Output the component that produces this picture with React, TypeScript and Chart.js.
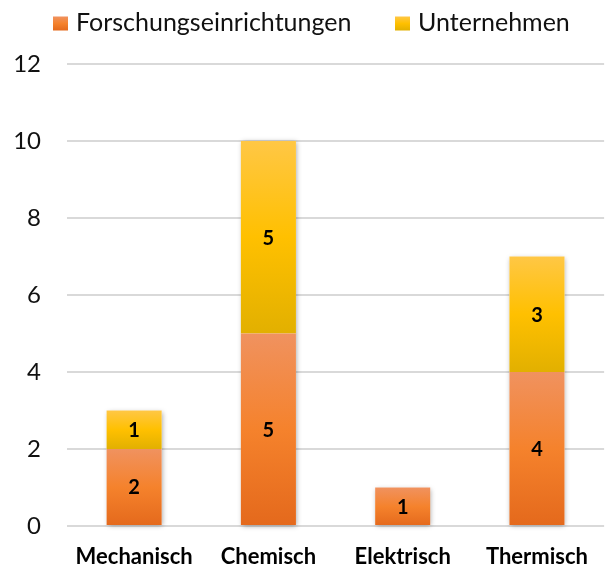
import React, { useEffect, useRef } from "react";
import { Chart, registerables } from "chart.js";

Chart.register(...registerables);

const categories = ["Mechanisch", "Chemisch", "Elektrisch", "Thermisch"];
const forschung = [2, 5, 1, 4];
const unternehmen = [1, 5, 0, 3];
const seriesNames = ["Forschungseinrichtungen", "Unternehmen"];
const yMin = 0;
const yMax = 12;
const yStep = 2;

const FONT = "Lato, 'DejaVu Sans', sans-serif";
const ORANGE = ["#F0925F", "#F5822C", "#E4691C"];
const YELLOW = ["#FFC745", "#FFC000", "#E2B000"];
const palettes = [ORANGE, YELLOW];
const series = [forschung, unternehmen];

function grad(ctx: CanvasRenderingContext2D, top: number, bottom: number, p: string[]) {
  const g = ctx.createLinearGradient(0, top, 0, bottom);
  g.addColorStop(0, p[0]);
  g.addColorStop(0.5, p[1]);
  g.addColorStop(1, p[2]);
  return g;
}

export default function App() {
  const ref = useRef<HTMLCanvasElement>(null);

  useEffect(() => {
    const canvas = ref.current!;

    const bg = (di: number) => (c: any) => {
      const chart = c.chart;
      const y = chart.scales && chart.scales.y;
      if (!chart.chartArea || !y || c.dataIndex === undefined) return palettes[di][1];
      const i = c.dataIndex;
      let start = 0;
      for (let k = 0; k < di; k++) start += series[k][i];
      const end = start + series[di][i];
      const top = y.getPixelForValue(end);
      const bottom = y.getPixelForValue(start);
      if (!(bottom > top)) return palettes[di][1];
      return grad(chart.ctx, top, bottom, palettes[di]);
    };

    const shadowPlugin = {
      id: "barShadow",
      beforeDatasetsDraw(chart: any) {
        const ctx = chart.ctx;
        const m0 = chart.getDatasetMeta(0);
        const m1 = chart.getDatasetMeta(1);
        ctx.save();
        ctx.shadowColor = "rgba(0,0,0,0.35)";
        ctx.shadowBlur = 5;
        ctx.shadowOffsetX = 1;
        ctx.shadowOffsetY = 1;
        ctx.fillStyle = "#ffffff";
        m0.data.forEach((el: any, i: number) => {
          const e1 = m1.data[i];
          const top = unternehmen[i] > 0 ? Math.min(el.y, e1.y) : el.y;
          const bottom = el.base;
          const w = el.width;
          ctx.fillRect(el.x - w / 2, top, w, bottom - top);
        });
        ctx.restore();
      },
    };

    const labelPlugin = {
      id: "segLabels",
      afterDatasetsDraw(chart: any) {
        const ctx = chart.ctx;
        ctx.save();
        ctx.font = `bold 20px ${FONT}`;
        ctx.fillStyle = "#000";
        ctx.textAlign = "center";
        ctx.textBaseline = "middle";
        series.forEach((vals, di) => {
          const meta = chart.getDatasetMeta(di);
          meta.data.forEach((el: any, i: number) => {
            if (!vals[i]) return;
            ctx.fillText(String(vals[i]), el.x, (el.y + el.base) / 2 + 1);
          });
        });
        ctx.restore();
      },
    };

    const legendX = [53, 395];
    const legendPlugin = {
      id: "topLegend",
      afterDraw(chart: any) {
        const ctx = chart.ctx;
        ctx.save();
        ctx.font = `25px ${FONT}`;
        const box = 15;
        const gap = 8;
        const boxTop = 16.5;
        const boxH = 14;
        seriesNames.forEach((name, i) => {
          const x = legendX[i];
          ctx.fillStyle = grad(ctx, boxTop, boxTop + boxH, palettes[i]);
          ctx.fillRect(x, boxTop, box, boxH);
          ctx.fillStyle = "#111";
          ctx.textBaseline = "alphabetic";
          ctx.textAlign = "left";
          ctx.fillText(name, x + box + gap, 30.5);
        });
        ctx.restore();
      },
    };

    const chart = new Chart(canvas, {
      type: "bar",
      data: {
        labels: categories,
        datasets: series.map((vals, di) => ({
          label: seriesNames[di],
          data: vals,
          backgroundColor: bg(di),
          borderWidth: 0,
          barPercentage: 1,
          categoryPercentage: 0.41,
          clip: false as any,
        })),
      },
      options: {
        responsive: false,
        animation: false,
        layout: { padding: { top: 64, left: 0, right: 0, bottom: 0 } },
        plugins: {
          legend: { display: false },
          tooltip: { enabled: false },
        },
        scales: {
          x: {
            stacked: true,
            grid: { display: false, drawTicks: false },
            border: { display: false },
            ticks: {
              color: "#000",
              font: { family: FONT, size: 22, weight: "bold" },
              padding: 18,
              maxRotation: 0,
              autoSkip: false,
            },
            afterFit: (s: any) => {
              s.height = 44;
            },
          },
          y: {
            stacked: true,
            min: yMin,
            max: yMax,
            grid: { color: "#d9d9d9", lineWidth: 2, drawTicks: false },
            border: { display: false },
            ticks: {
              stepSize: yStep,
              color: "#111",
              font: { family: FONT, size: 24 },
              padding: 26,
            },
            afterFit: (s: any) => {
              s.width = 67;
            },
          },
        },
      },
      plugins: [shadowPlugin, labelPlugin, legendPlugin],
    });

    return () => chart.destroy();
  }, []);

  return (
    <div style={{ position: "absolute", left: 0, top: 0, width: 606, height: 570, background: "#fff" }}>
      <canvas ref={ref} width={606} height={570} style={{ width: 606, height: 570, display: "block" }} />
    </div>
  );
}
